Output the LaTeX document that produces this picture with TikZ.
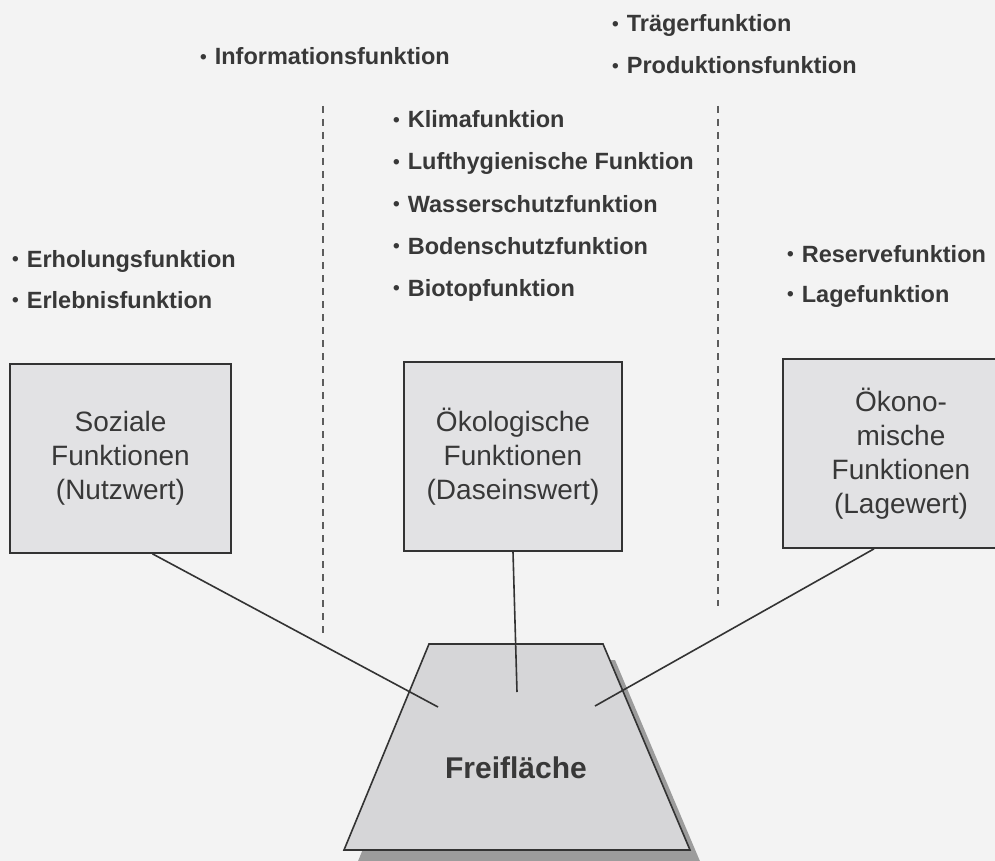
\documentclass[tikz,border=0pt]{standalone}
\usepackage{fontspec}
\setmainfont{Liberation Sans}
\usetikzlibrary{calc}
\definecolor{bg}{HTML}{F3F3F3}
\definecolor{boxfill}{HTML}{E2E2E4}
\definecolor{trapfill}{HTML}{D6D6D8}
\definecolor{shadow}{HTML}{9C9C9C}
\definecolor{edge}{HTML}{333333}
\definecolor{txt}{HTML}{383838}
\newcommand{\itemfont}{\fontsize{23.5}{28}\selectfont\bfseries}
\newcommand{\boxfont}{\fontsize{28}{34}\selectfont}
\newcommand{\bul}{\raisebox{1.5pt}{\fontsize{19}{19}\selectfont •}\hspace{8pt}}
\tikzset{
  item/.style={anchor=base west, inner sep=0pt, font=\itemfont, text=txt},
  funcbox/.style={draw=edge, fill=boxfill, line width=1.7pt, inner sep=0pt,
    align=center, font=\boxfont, text=txt},
  conn/.style={draw=edge, line width=1.6pt},
  sep/.style={draw=edge!80, line width=1.8pt, dash pattern=on 7pt off 6pt},
}
\begin{document}
\begin{tikzpicture}[x=1pt,y=-1pt]
\useasboundingbox (0,0) rectangle (995,861);
\fill[bg] (0,0) rectangle (995,861);

% dashed separators
\coordinate (s1a) at (323,106);
\coordinate (s1b) at (323,636);
\coordinate (s2a) at (718,106);
\coordinate (s2b) at (718,606);
\draw[sep] (s1a) -- (s1b);
\draw[sep] (s2a) -- (s2b);

% top items
\node[item] (traeger) at (612,32) {\bul Trägerfunktion};
\node[item] (prod) at (612,74) {\bul Produktionsfunktion};
\node[item] (info) at (200,65) {\bul Informationsfunktion};

% middle items
\node[item] (klima) at (393,128) {\bul Klimafunktion};
\node[item] (luft) at (393,170) {\bul Lufthygienische Funktion};
\node[item] (wasser) at (393,212) {\bul Wasserschutzfunktion};
\node[item] (boden) at (393,254) {\bul Bodenschutzfunktion};
\node[item] (biotop) at (393,296) {\bul Biotopfunktion};

% left items
\node[item] (erhol) at (12,267) {\bul Erholungsfunktion};
\node[item] (erleb) at (12,308) {\bul Erlebnisfunktion};

% right items
\node[item] (reserve) at (787,262) {\bul Reservefunktion};
\node[item] (lage) at (787,302) {\bul Lagefunktion};

% boxes
\node[funcbox, minimum width=221pt, minimum height=189pt] (sozial) at (120.5,458.5)
  {Soziale\\Funktionen\\(Nutzwert)};
\node[funcbox, minimum width=218pt, minimum height=189pt] (oeko) at (513,456.5)
  {Ökologische\\Funktionen\\(Daseinswert)};
\node[funcbox, minimum width=236pt, minimum height=189pt] (oekon) at (901,453.5)
  {Ökono-\\mische\\Funktionen\\(Lagewert)};

% Freiflaeche trapezoid with shadow
\coordinate (tl) at (429,644);
\coordinate (tr) at (603,644);
\coordinate (br) at (690,850);
\coordinate (bl) at (344,850);
\fill[shadow] ($(tl)+(12,16)$) -- ($(tr)+(12,16)$) -- ($(br)+(12,16)$) -- ($(bl)+(12,16)$) -- cycle;
\draw[draw=edge, fill=trapfill, line width=1.6pt] (tl) -- (tr) -- (br) -- (bl) -- cycle;
\node[font=\fontsize{30}{34}\selectfont\bfseries, text=txt, inner sep=0pt] (frei) at (516,768) {Freifläche};

% connectors
\coordinate (e1) at (438,707);
\coordinate (e2) at (517,692);
\coordinate (e3) at (595,706);
\draw[conn] ($(sozial.south)+(32,0)$) -- (e1);
\draw[conn] (oeko.south) -- (e2);
\draw[conn] ($(oekon.south)+(-27,0)$) -- (e3);
\end{tikzpicture}
\end{document}
